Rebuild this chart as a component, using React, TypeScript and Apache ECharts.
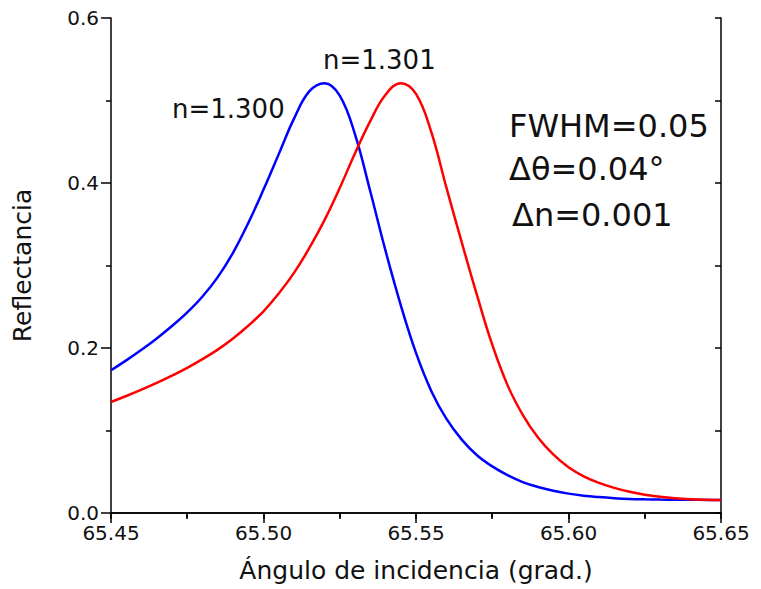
import React, { useEffect, useRef } from "react";
import * as echarts from "echarts";

const angles: number[] = [
  65.45, 65.455, 65.46, 65.465, 65.47, 65.475, 65.48, 65.485, 65.49, 65.495,
  65.5, 65.505, 65.51, 65.515, 65.52, 65.525, 65.53, 65.535, 65.54, 65.545,
  65.55, 65.555, 65.56, 65.565, 65.57, 65.575, 65.58, 65.585, 65.59, 65.595,
  65.6, 65.605, 65.61, 65.615, 65.62, 65.625, 65.63, 65.635, 65.64, 65.645, 65.65,
];

const reflBlue: number[] = [
  0.173, 0.185, 0.1978, 0.2116, 0.2266, 0.2431, 0.2624, 0.2859, 0.3154, 0.3514,
  0.392, 0.435, 0.478, 0.511, 0.521, 0.506, 0.459, 0.39, 0.318, 0.252,
  0.194, 0.148, 0.114, 0.089, 0.07, 0.0565, 0.046, 0.0375, 0.0315, 0.027,
  0.0235, 0.021, 0.0193, 0.018, 0.0171, 0.0166, 0.0163, 0.0161, 0.016, 0.0159, 0.0158,
];

const reflRed: number[] = [
  0.1345, 0.1418, 0.1495, 0.1577, 0.1665, 0.176, 0.1865, 0.198, 0.2115, 0.227,
  0.2445, 0.266, 0.291, 0.321, 0.355, 0.394, 0.436, 0.475, 0.507, 0.521,
  0.508, 0.462, 0.394, 0.328, 0.264, 0.204, 0.155, 0.119, 0.0915, 0.071,
  0.0555, 0.0445, 0.0365, 0.0305, 0.0258, 0.0222, 0.0196, 0.0178, 0.0167, 0.0161, 0.0158,
];

const seriesNames: string[] = ["n=1.300", "n=1.301"];
const annotations: string[] = ["FWHM=0.05", "Δθ=0.04°", "Δn=0.001"];
const xTitle = "Ángulo de incidencia (grad.)";
const yTitle = "Reflectancia";

const FONT = "DejaVu Sans, Verdana, sans-serif";

export default function App() {
  const ref = useRef<HTMLDivElement>(null);
  useEffect(() => {
    if (!ref.current) return;
    const chart = echarts.init(ref.current, undefined, { renderer: "svg" });
    const blue = angles.map((a, i) => [a, reflBlue[i]]);
    const red = angles.map((a, i) => [a, reflRed[i]]);
    const axisLine = { show: true, lineStyle: { color: "#000", width: 1.5 } };
    chart.setOption({
      animation: false,
      backgroundColor: "#fff",
      grid: { left: 111, right: 40, top: 18, bottom: 76, containLabel: false },
      xAxis: [
        {
          type: "value",
          min: 65.45,
          max: 65.65,
          interval: 0.05,
          axisLine,
          axisTick: { show: true, inside: false, length: 10, lineStyle: { color: "#000", width: 1.5 } },
          minorTick: { show: true, splitNumber: 2, length: 5, lineStyle: { color: "#000", width: 1.5 } },
          splitLine: { show: false },
          axisLabel: {
            margin: 10,
            fontSize: 20,
            fontFamily: FONT,
            color: "#111",
            formatter: (v: number) => v.toFixed(2),
          },
          name: xTitle,
          nameLocation: "middle",
          nameGap: 45,
          nameTextStyle: { fontSize: 25, fontFamily: FONT, color: "#111" },
        },
        {
          type: "value",
          position: "top",
          min: 65.45,
          max: 65.65,
          interval: 0.025,
          axisLine,
          axisTick: { show: true, inside: true, length: 6, lineStyle: { color: "#000", width: 1.5 } },
          axisLabel: { show: false },
          splitLine: { show: false },
        },
      ],
      yAxis: [
        {
          type: "value",
          min: 0,
          max: 0.6,
          interval: 0.2,
          axisLine,
          axisTick: { show: true, inside: false, length: 10, lineStyle: { color: "#000", width: 1.5 } },
          minorTick: { show: true, splitNumber: 2, length: 5, lineStyle: { color: "#000", width: 1.5 } },
          splitLine: { show: false },
          axisLabel: {
            margin: 12,
            fontSize: 20,
            fontFamily: FONT,
            color: "#111",
            formatter: (v: number) => v.toFixed(1),
          },
          name: yTitle,
          nameLocation: "middle",
          nameGap: 76,
          nameRotate: 90,
          nameTextStyle: { fontSize: 25, fontFamily: FONT, color: "#111" },
        },
        {
          type: "value",
          position: "right",
          min: 0,
          max: 0.6,
          interval: 0.1,
          axisLine,
          axisTick: { show: true, inside: true, length: 6, lineStyle: { color: "#000", width: 1.5 } },
          axisLabel: { show: false },
          splitLine: { show: false },
        },
      ],
      series: [
        {
          name: seriesNames[0],
          type: "line",
          data: blue,
          smooth: 0.4,
          showSymbol: false,
          lineStyle: { color: "#0000ff", width: 2.5 },
          xAxisIndex: 0,
          yAxisIndex: 0,
        },
        {
          name: seriesNames[1],
          type: "line",
          data: red,
          smooth: 0.4,
          showSymbol: false,
          lineStyle: { color: "#ff0000", width: 2.5 },
          xAxisIndex: 0,
          yAxisIndex: 0,
        },
      ],
      graphic: [
        {
          type: "text",
          left: 172,
          top: 96,
          style: { text: seriesNames[0], fontSize: 26, fontFamily: FONT, fill: "#111" },
        },
        {
          type: "text",
          left: 323,
          top: 47,
          style: { text: seriesNames[1], fontSize: 26, fontFamily: FONT, fill: "#111" },
        },
        {
          type: "text",
          left: 509,
          top: 110,
          style: { text: annotations[0], fontSize: 32, fontFamily: FONT, fill: "#111" },
        },
        {
          type: "text",
          left: 509,
          top: 153,
          style: { text: annotations[1], fontSize: 32, fontFamily: FONT, fill: "#111" },
        },
        {
          type: "text",
          left: 512,
          top: 199,
          style: { text: annotations[2], fontSize: 32, fontFamily: FONT, fill: "#111" },
        },
      ],
    });
    return () => chart.dispose();
  }, []);
  return (
    <div
      ref={ref}
      style={{ position: "absolute", left: 0, top: 0, width: 761, height: 589 }}
    />
  );
}
